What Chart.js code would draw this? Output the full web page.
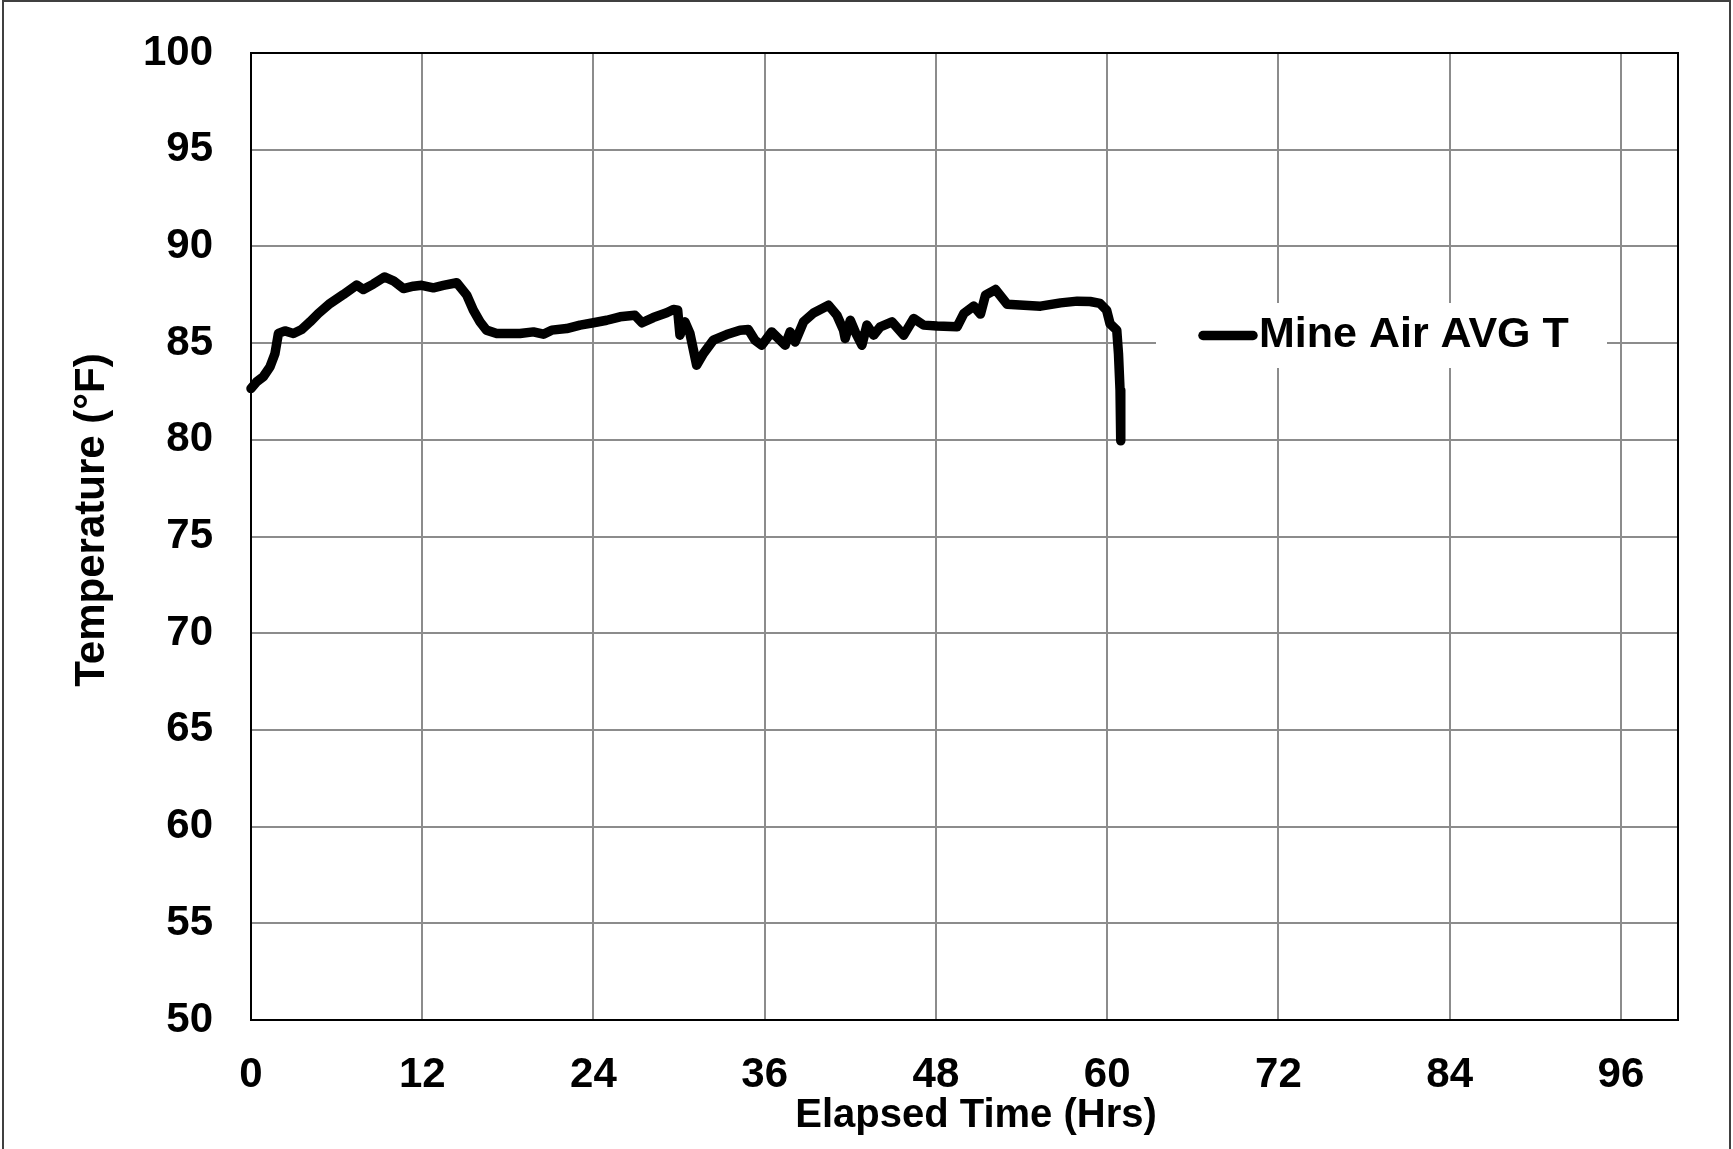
<!DOCTYPE html>
<html>
<head>
<meta charset="utf-8">
<title>Mine Air AVG T</title>
<script src="https://cdn.jsdelivr.net/npm/chart.js@4.4.1/dist/chart.umd.min.js"></script>
<style>
  html, body { margin: 0; padding: 0; background: #ffffff; }
  canvas { display: block; }
</style>
</head>
<body>
<canvas id="chart" width="1733" height="1149"></canvas>
<script>
// Series label and axis titles
const seriesName = 'Mine Air AVG T';
const xTitle = 'Elapsed Time (Hrs)';
const yTitle = 'Temperature (°F)';

// Elapsed time (hours)
const hours = [
  0.0, 0.4, 0.86, 1.33, 1.68, 1.92, 2.38, 2.97, 3.55, 4.14,
  4.72, 5.54, 6.47, 7.4, 7.87, 8.57, 9.35, 9.98, 10.68, 11.38,
  11.96, 12.78, 13.48, 14.42, 15.12, 15.58, 16.05, 16.5, 17.22, 17.92,
  18.85, 19.79, 20.49, 21.07, 22.12, 23.06, 24.0, 24.93, 25.86, 26.9,
  27.4, 28.19, 29.13, 29.6, 29.9, 30.06, 30.41, 30.76, 31.23, 31.7,
  32.4, 33.33, 34.27, 34.85, 35.32, 35.79, 36.49, 37.43, 37.78, 38.13,
  38.72, 39.42, 40.47, 41.06, 41.52, 41.64, 42.0, 42.34, 42.81, 43.16,
  43.63, 44.1, 44.92, 45.74, 46.44, 47.14, 48.08, 49.48, 49.95, 50.65,
  51.12, 51.47, 52.17, 52.99, 54.16, 55.33, 56.73, 57.9, 58.8, 59.5,
  59.96, 60.2, 60.67, 60.79, 60.9, 60.95
];

// Mine air average temperature (°F)
const tempF = [
  82.65, 83.0, 83.26, 83.77, 84.46, 85.5, 85.63, 85.5, 85.7, 86.1,
  86.53, 87.05, 87.51, 88.0, 87.77, 88.05, 88.42, 88.22, 87.82, 87.94,
  87.99, 87.86, 87.98, 88.12, 87.48, 86.7, 86.1, 85.67, 85.5, 85.5,
  85.5, 85.58, 85.46, 85.67, 85.75, 85.93, 86.05, 86.18, 86.36, 86.44,
  86.05, 86.32, 86.57, 86.74, 86.7, 85.41, 86.1, 85.5, 83.86, 84.46,
  85.15, 85.44, 85.67, 85.7, 85.15, 84.89, 85.58, 84.89, 85.58, 85.06,
  86.1, 86.56, 86.96, 86.44, 85.67, 85.24, 86.18, 85.58, 84.89, 85.93,
  85.41, 85.84, 86.1, 85.41, 86.27, 85.93, 85.88, 85.84, 86.53, 86.91,
  86.5, 87.48, 87.77, 87.01, 86.96, 86.91, 87.08, 87.17, 87.15, 87.05,
  86.7, 86.0, 85.67, 84.46, 82.57, 79.95
];

// Axis ticks
const xTicks = [0, 12, 24, 36, 48, 60, 72, 84, 96];
const yTicks = [50, 55, 60, 65, 70, 75, 80, 85, 90, 95, 100];

const FONT_FAMILY = '"Liberation Sans", Arial, Helvetica, sans-serif';
const GRID_COLOR = '#8c8c8c';

// White page with a thin outer frame
const pageFrame = {
  id: 'pageFrame',
  beforeDraw(chart) {
    const ctx = chart.ctx;
    ctx.save();
    ctx.fillStyle = '#ffffff';
    ctx.fillRect(0, 0, chart.width, chart.height);
    ctx.strokeStyle = '#404040';
    ctx.lineWidth = 2;
    ctx.strokeRect(3, 1, 1727, chart.height + 10);
    ctx.restore();
  }
};

// Black frame around the plotting area
const plotFrame = {
  id: 'plotFrame',
  beforeDatasetsDraw(chart) {
    const a = chart.chartArea;
    const ctx = chart.ctx;
    ctx.save();
    ctx.strokeStyle = '#000000';
    ctx.lineWidth = 2;
    ctx.strokeRect(a.left, a.top, a.right - a.left, a.bottom - a.top);
    ctx.restore();
  }
};

// Axis titles, placed freely below and left of the plot
const axisTitles = {
  id: 'axisTitles',
  afterDraw(chart) {
    const ctx = chart.ctx;
    ctx.save();
    ctx.fillStyle = '#000000';
    ctx.textAlign = 'center';
    ctx.textBaseline = 'middle';
    ctx.font = 'bold 40px ' + FONT_FAMILY;
    ctx.fillText(xTitle, 976, 1116);
    ctx.font = 'bold 42px ' + FONT_FAMILY;
    ctx.translate(92, 520);
    ctx.rotate(-Math.PI / 2);
    ctx.fillText(yTitle, 0, 0);
    ctx.restore();
  }
};

// Legend drawn inside the plot, on a white box
const insideLegend = {
  id: 'insideLegend',
  afterDraw(chart) {
    const ctx = chart.ctx;
    const ds = chart.data.datasets[0];
    const box = { x: 1156, y: 303, w: 451, h: 65 };
    const cy = box.y + box.h / 2;
    ctx.save();
    ctx.fillStyle = '#ffffff';
    ctx.fillRect(box.x, box.y, box.w, box.h);
    ctx.strokeStyle = ds.borderColor;
    ctx.lineWidth = ds.borderWidth;
    ctx.lineCap = 'round';
    ctx.beginPath();
    ctx.moveTo(1203, cy);
    ctx.lineTo(1253, cy);
    ctx.stroke();
    ctx.fillStyle = '#000000';
    ctx.font = 'bold 43px ' + FONT_FAMILY;
    ctx.textAlign = 'left';
    ctx.textBaseline = 'middle';
    ctx.fillText(ds.label, 1259, cy);
    ctx.restore();
  }
};

const points = hours.map((h, i) => ({ x: h, y: tempF[i] }));

new Chart(document.getElementById('chart'), {
  type: 'line',
  data: {
    datasets: [{
      label: seriesName,
      data: points,
      borderColor: '#000000',
      borderWidth: 9.5,
      borderJoinStyle: 'round',
      borderCapStyle: 'round',
      pointRadius: 0,
      tension: 0,
      fill: false,
      clip: 10
    }]
  },
  options: {
    responsive: false,
    animation: false,
    devicePixelRatio: 1,
    layout: { padding: { top: 53, right: 55, bottom: 0, left: 0 } },
    plugins: {
      legend: { display: false },
      tooltip: { enabled: false }
    },
    scales: {
      x: {
        type: 'linear',
        min: 0,
        max: 100,
        afterBuildTicks(scale) { scale.ticks = xTicks.map(v => ({ value: v })); },
        afterFit(scale) { scale.height = 129; },
        grid: { color: GRID_COLOR, lineWidth: 2, drawTicks: false },
        border: { display: false },
        ticks: {
          color: '#000000',
          padding: 30,
          maxRotation: 0,
          autoSkip: false,
          font: { family: FONT_FAMILY, size: 42, weight: 'bold' }
        }
      },
      y: {
        type: 'linear',
        min: 50,
        max: 100,
        afterBuildTicks(scale) { scale.ticks = yTicks.map(v => ({ value: v })); },
        afterFit(scale) {
          scale.width = 251;
          scale.paddingTop = 0;
          scale.paddingBottom = 0;
        },
        grid: { color: GRID_COLOR, lineWidth: 2, drawTicks: false },
        border: { display: false },
        ticks: {
          color: '#000000',
          padding: 38,
          autoSkip: false,
          font: { family: FONT_FAMILY, size: 42, weight: 'bold' }
        }
      }
    }
  },
  plugins: [pageFrame, plotFrame, axisTitles, insideLegend]
});
</script>
</body>
</html>
